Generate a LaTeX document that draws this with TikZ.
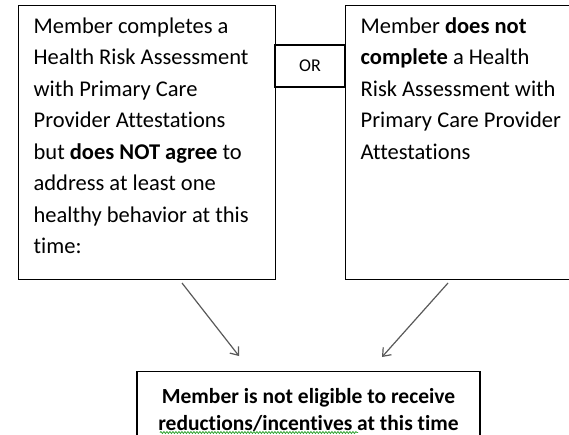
\documentclass[tikz,border=0pt]{standalone}
\usepackage{fontspec}
\setmainfont{Carlito}[Ligatures=NoCommon]
\usetikzlibrary{arrows.meta}
\usetikzlibrary{decorations.pathmorphing}

\begin{document}
\begin{tikzpicture}[x=1pt,y=-1pt]
  \tikzset{BOX/.style={draw, line width=1.3pt, anchor=north west, inner xsep=15pt, inner ysep=12pt,
                       font=\fontsize{22.5}{31.5}\selectfont} }
  \tikzset{ARR/.style={draw=black!65, line width=1.2pt, -{Straight Barb[length=7pt,width=11pt]}} }
  \clip (0,0) rectangle (569,434);

  \node[BOX] (hra) at (18,5) {\parbox[c][250pt][t]{227pt}{\raggedright
    Member completes a\\
    Health Risk Assessment\\
    with Primary Care\\
    Provider Attestations\\
    but \textbf{does NOT agree} to\\
    address at least one\\
    healthy behavior at this\\
    time:}};

  \node[BOX] (nohra) at (345,5) {\parbox[c][250pt][t]{227pt}{\raggedright
    Member \textbf{does not}\\
    \textbf{complete} a Health\\
    Risk Assessment with\\
    Primary Care Provider\\
    Attestations}};

  \node[draw, line width=1.3pt, minimum width=70pt, minimum height=42pt, inner sep=0pt,
        font=\fontsize{18}{18}\selectfont] (orbox) at (310,66) {OR};

  \node[BOX, anchor=north, inner ysep=17pt, font=\fontsize{21.5}{27}\selectfont] (result) at (308.5,371)
    {\parbox{313pt}{\centering\bfseries
      Member is not eligible to receive\\
      reductions/incentives at this time}};

  % spell-check mark
  \draw[green!55!black!80, line width=0.8pt, decorate, decoration={snake, amplitude=1pt, segment length=3pt}]
    (160,432.5) -- (358,432.5);

  \coordinate (a1) at (182,283);
  \coordinate (t1) at (239,356);
  \coordinate (a2) at (448,283);
  \coordinate (t2) at (382,357);

  \draw[ARR] (a1) -- (t1);
  \draw[ARR] (a2) -- (t2);
\end{tikzpicture}
\end{document}
